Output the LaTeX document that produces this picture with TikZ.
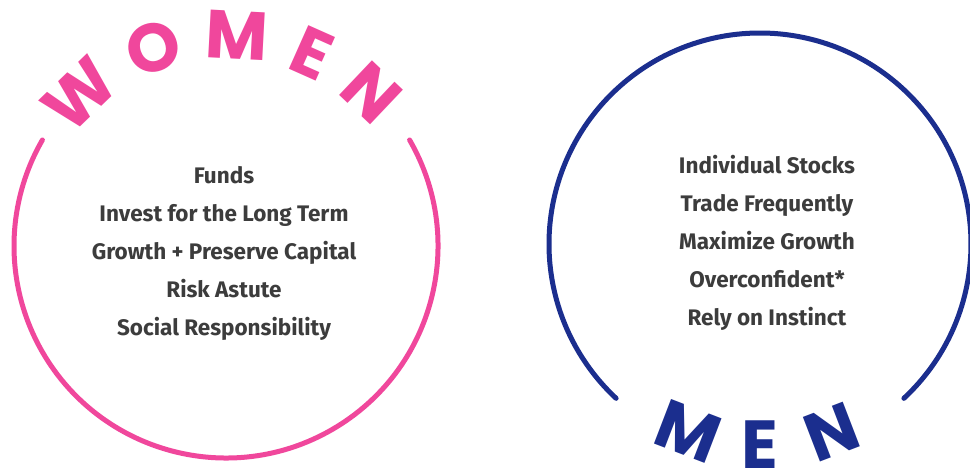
\documentclass[tikz,border=0pt]{standalone}
\usepackage{fontspec}
\setmainfont{Fira Sans}
\newfontfamily\capfont{Poppins}
\usepackage{tikz}
\usetikzlibrary{calc}
\usepackage{xcolor}
\definecolor{hotpink}{RGB}{240,71,156}
\definecolor{navy}{RGB}{27,46,142}
\definecolor{textgray}{RGB}{60,60,60}
\tikzstyle{ring} = [line width=5pt,line cap=round]
\tikzstyle{bigcap} = [inner sep=0pt,font=\capfont\bfseries\fontsize{68}{68}\selectfont]
\tikzstyle{itemlist} = [inner sep=0pt,align=center,text=textgray,font=\bfseries\fontsize{22.5}{38}\selectfont]

\begin{document}
\begin{tikzpicture}[x=1pt,y=1pt]
\useasboundingbox[fill=white] (0,0) rectangle (970,473);

\coordinate (wc) at (226,227);
\coordinate (mc) at (760,229);

% women ring, open at the top for the title
\draw[ring,hotpink] ([shift={(30:212)}]wc) arc[start angle=30,end angle=-210,radius=212];
\foreach \ch/\ang in {W/134,O/110,M/87,E/66,N/46.5} {
\node[bigcap,hotpink,rotate=\ang-90] (women-\ch) at ([shift={(\ang:211)}]wc) {\ch};
}

% men ring, open at the bottom
\draw[ring,navy] ([shift={(-47:211)}]mc) arc[start angle=-47,end angle=227,radius=211];
\foreach \ch/\ang in {M/-111,E/-90,N/-69} {
\node[bigcap,navy,rotate=\ang+90] (men-\ch) at ([shift={(\ang:201)}]mc) {\ch};
}

\node[itemlist] (women-list) at (224,220) {Funds\\Invest for the Long Term\\Growth + Preserve Capital\\Risk Astute\\Social Responsibility};
\node[itemlist] (men-list) at (767,230) {Individual Stocks\\Trade Frequently\\Maximize Growth\\Overconfident*\\Rely on Instinct};
\end{tikzpicture}
\end{document}
